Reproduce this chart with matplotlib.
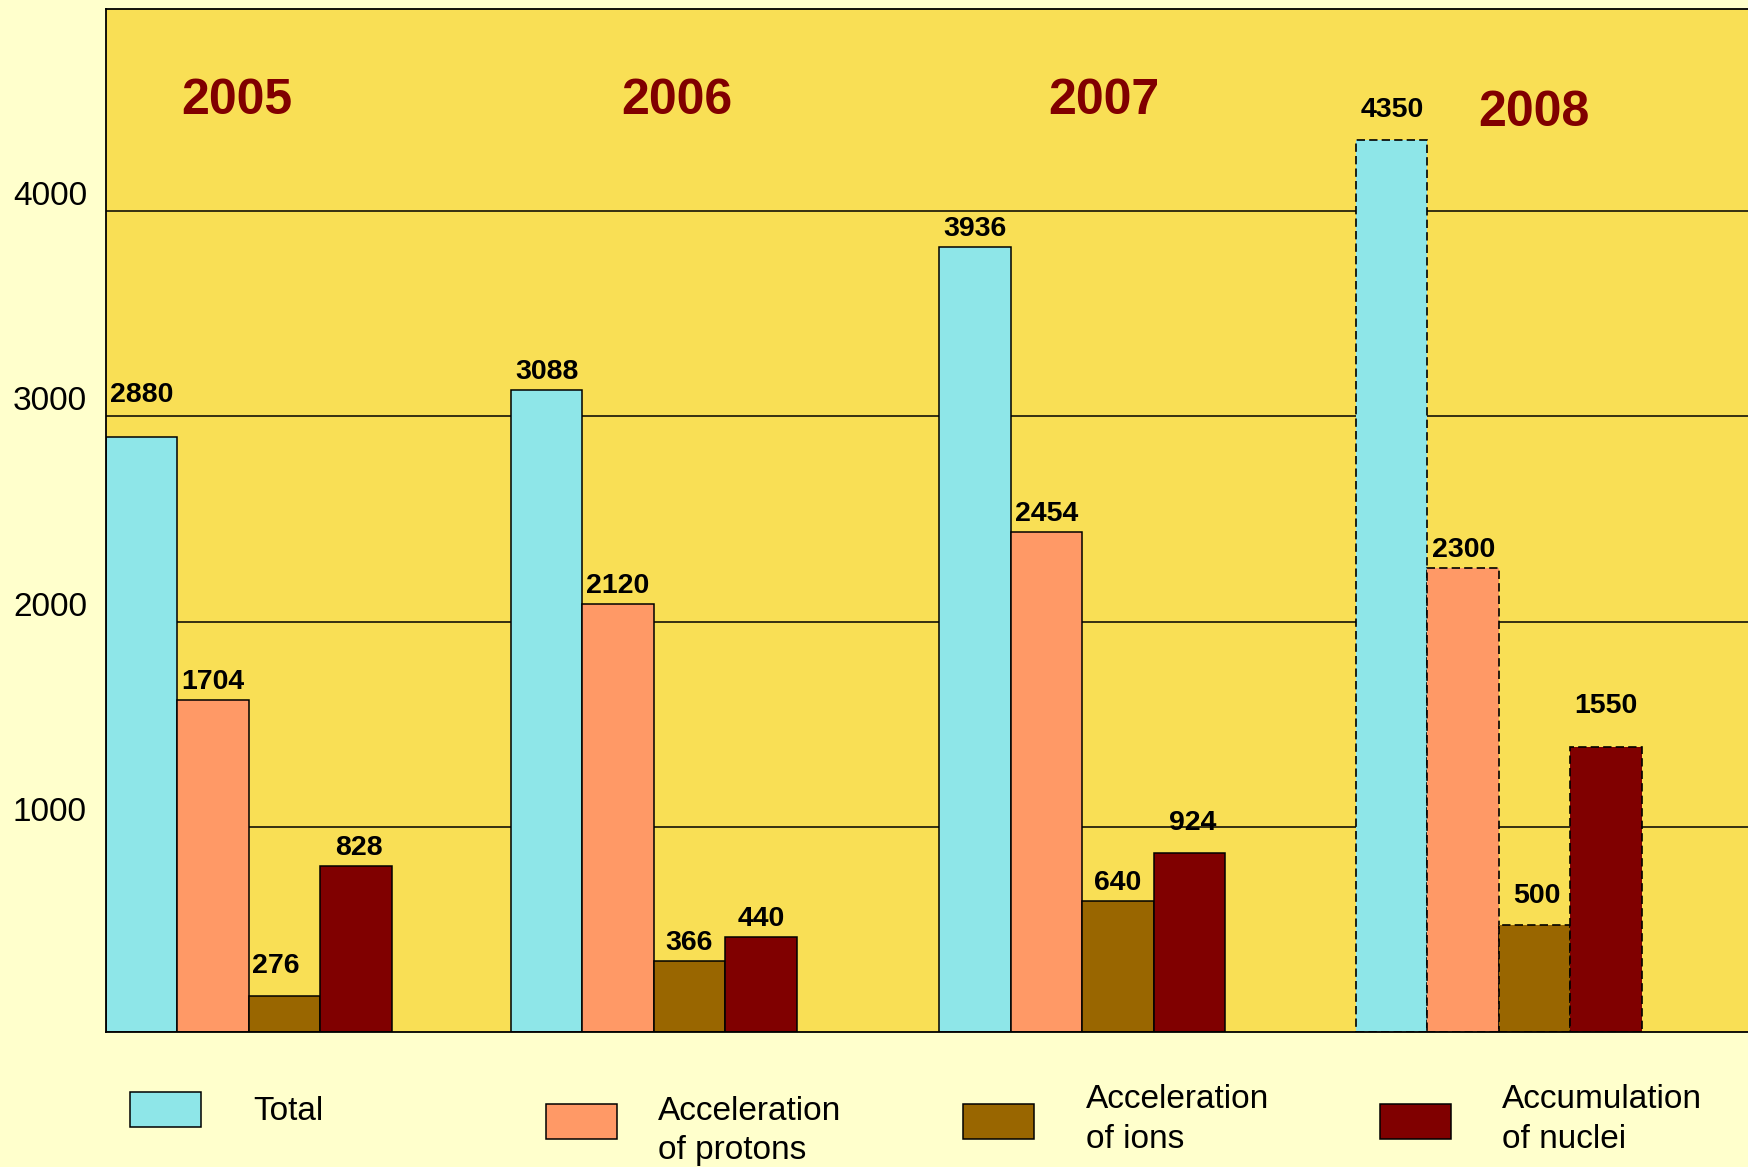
import matplotlib
matplotlib.use("Agg")
import matplotlib.pyplot as plt
from matplotlib.patches import Rectangle
from matplotlib.transforms import ScaledTranslation

# ---------------- data ----------------
years = ["2005", "2006", "2007", "2008"]
series_names = ["Total", "Acceleration\nof protons", "Acceleration\nof ions", "Accumulation\nof nuclei"]
# values printed above the bars
total_vals = [2880, 3088, 3936, 4350]
protons_vals = [1704, 2120, 2454, 2300]
ions_vals = [276, 366, 640, 500]
nuclei_vals = [828, 440, 924, 1550]
# bar heights as drawn in the picture
total_drawn = [2900, 3130, 3826, 4348]
protons_drawn = [1620, 2087, 2435, 2261]
ions_drawn = [174, 348, 636, 522]
nuclei_drawn = [810, 462, 870, 1391]
ytick_vals = [1000, 2000, 3000, 4000]

# ---------------- style / layout ----------------
W, H = 1749, 1167
DPI = 100
colors = ["#8EE6E8", "#FF9966", "#996600", "#800000"]
fig_bg = "#FFFFCC"
ax_bg = "#F9DF55"
year_color = "#800000"
FONT = "Liberation Sans"

group_pos = [0.0, 0.972, 2.0, 3.0]
bw = 0.1713
dashed_group = 3
# extra label offsets in pixels (dx, dy) per series, per group
label_dy = [[24, 0, 0, 12], [0, 0, 0, 0], [12, 0, 0, 11], [0, 0, 12, 23]]
label_dx = [[0, 0, 0, 0], [0, 0, 0, 0], [-9, 0, 0, 2], [3, 0, 3, 0]]
year_xy = [(237, 114), (677, 114), (1104, 114), (1534, 126)]  # pixel (center x, baseline y)

px = 72.0 / DPI  # points per pixel

fig = plt.figure(figsize=(W / DPI, H / DPI), dpi=DPI, facecolor=fig_bg)
ax = fig.add_axes([106 / W, (H - 1032) / H, (W - 106) / W, (1032 - 9) / H])
ax.set_facecolor(ax_bg)

vals = [total_vals, protons_vals, ions_vals, nuclei_vals]
drawn = [total_drawn, protons_drawn, ions_drawn, nuclei_drawn]

for s in range(4):
    for g in range(4):
        x = group_pos[g] + (s - 1.5) * bw
        dashed = (g == dashed_group)
        ax.bar(x, drawn[s][g], width=bw, color=colors[s], edgecolor="black",
               linewidth=1.1 if not dashed else 1.2,
               linestyle=(0, (5, 2.5)) if dashed else "solid", zorder=3)
        ax.annotate(str(vals[s][g]), xy=(x, drawn[s][g]),
                    xytext=(label_dx[s][g] * px, (11 + label_dy[s][g]) * px),
                    textcoords="offset points", ha="center", va="baseline",
                    fontsize=20.5, fontweight="bold", family=FONT, color="black",
                    zorder=5)

ax.set_xlim(-2 * bw, (W - 106) / 416.7 - 2 * bw)
ax.set_ylim(0, 4985)
ax.set_xticks([])
ax.set_yticks(ytick_vals)
ax.set_yticklabels([str(v) for v in ytick_vals], family=FONT, fontsize=24)
ax.tick_params(axis="y", length=0, pad=19 * px)
offset = ScaledTranslation(0, 6 / DPI, fig.dpi_scale_trans)
for lab in ax.get_yticklabels():
    lab.set_verticalalignment("baseline")
    lab.set_transform(lab.get_transform() + offset)

ax.yaxis.grid(True, color="black", linewidth=1.1)
ax.set_axisbelow(True)
for side in ["left", "top", "bottom"]:
    ax.spines[side].set_color("black")
    ax.spines[side].set_linewidth(1.3)
    ax.spines[side].set_zorder(6)
ax.spines["right"].set_visible(False)

# year labels
for yr, (xp, yp) in zip(years, year_xy):
    fig.text(xp / W, 1 - yp / H, yr, ha="center", va="baseline",
             fontsize=36, fontweight="bold", color=year_color, family=FONT)

# manual legend
leg_patch = [(130, 1092), (546, 1104), (963, 1104), (1380, 1104)]  # top-left px
leg_text = [(253, [1120]), (658, [1120, 1159]), (1086, [1108, 1148]), (1502, [1108, 1148])]
for s in range(4):
    x0, y0 = leg_patch[s]
    fig.patches.append(Rectangle((x0 / W, 1 - (y0 + 35) / H), 71 / W, 35 / H,
                                 transform=fig.transFigure, facecolor=colors[s],
                                 edgecolor="black", linewidth=1.1))
    tx, ys = leg_text[s]
    for line, yb in zip(series_names[s].split("\n"), ys):
        fig.text(tx / W, 1 - yb / H, line, ha="left", va="baseline",
                 fontsize=24, family=FONT, color="black")

fig.savefig("out.png", dpi=DPI, facecolor=fig_bg)
